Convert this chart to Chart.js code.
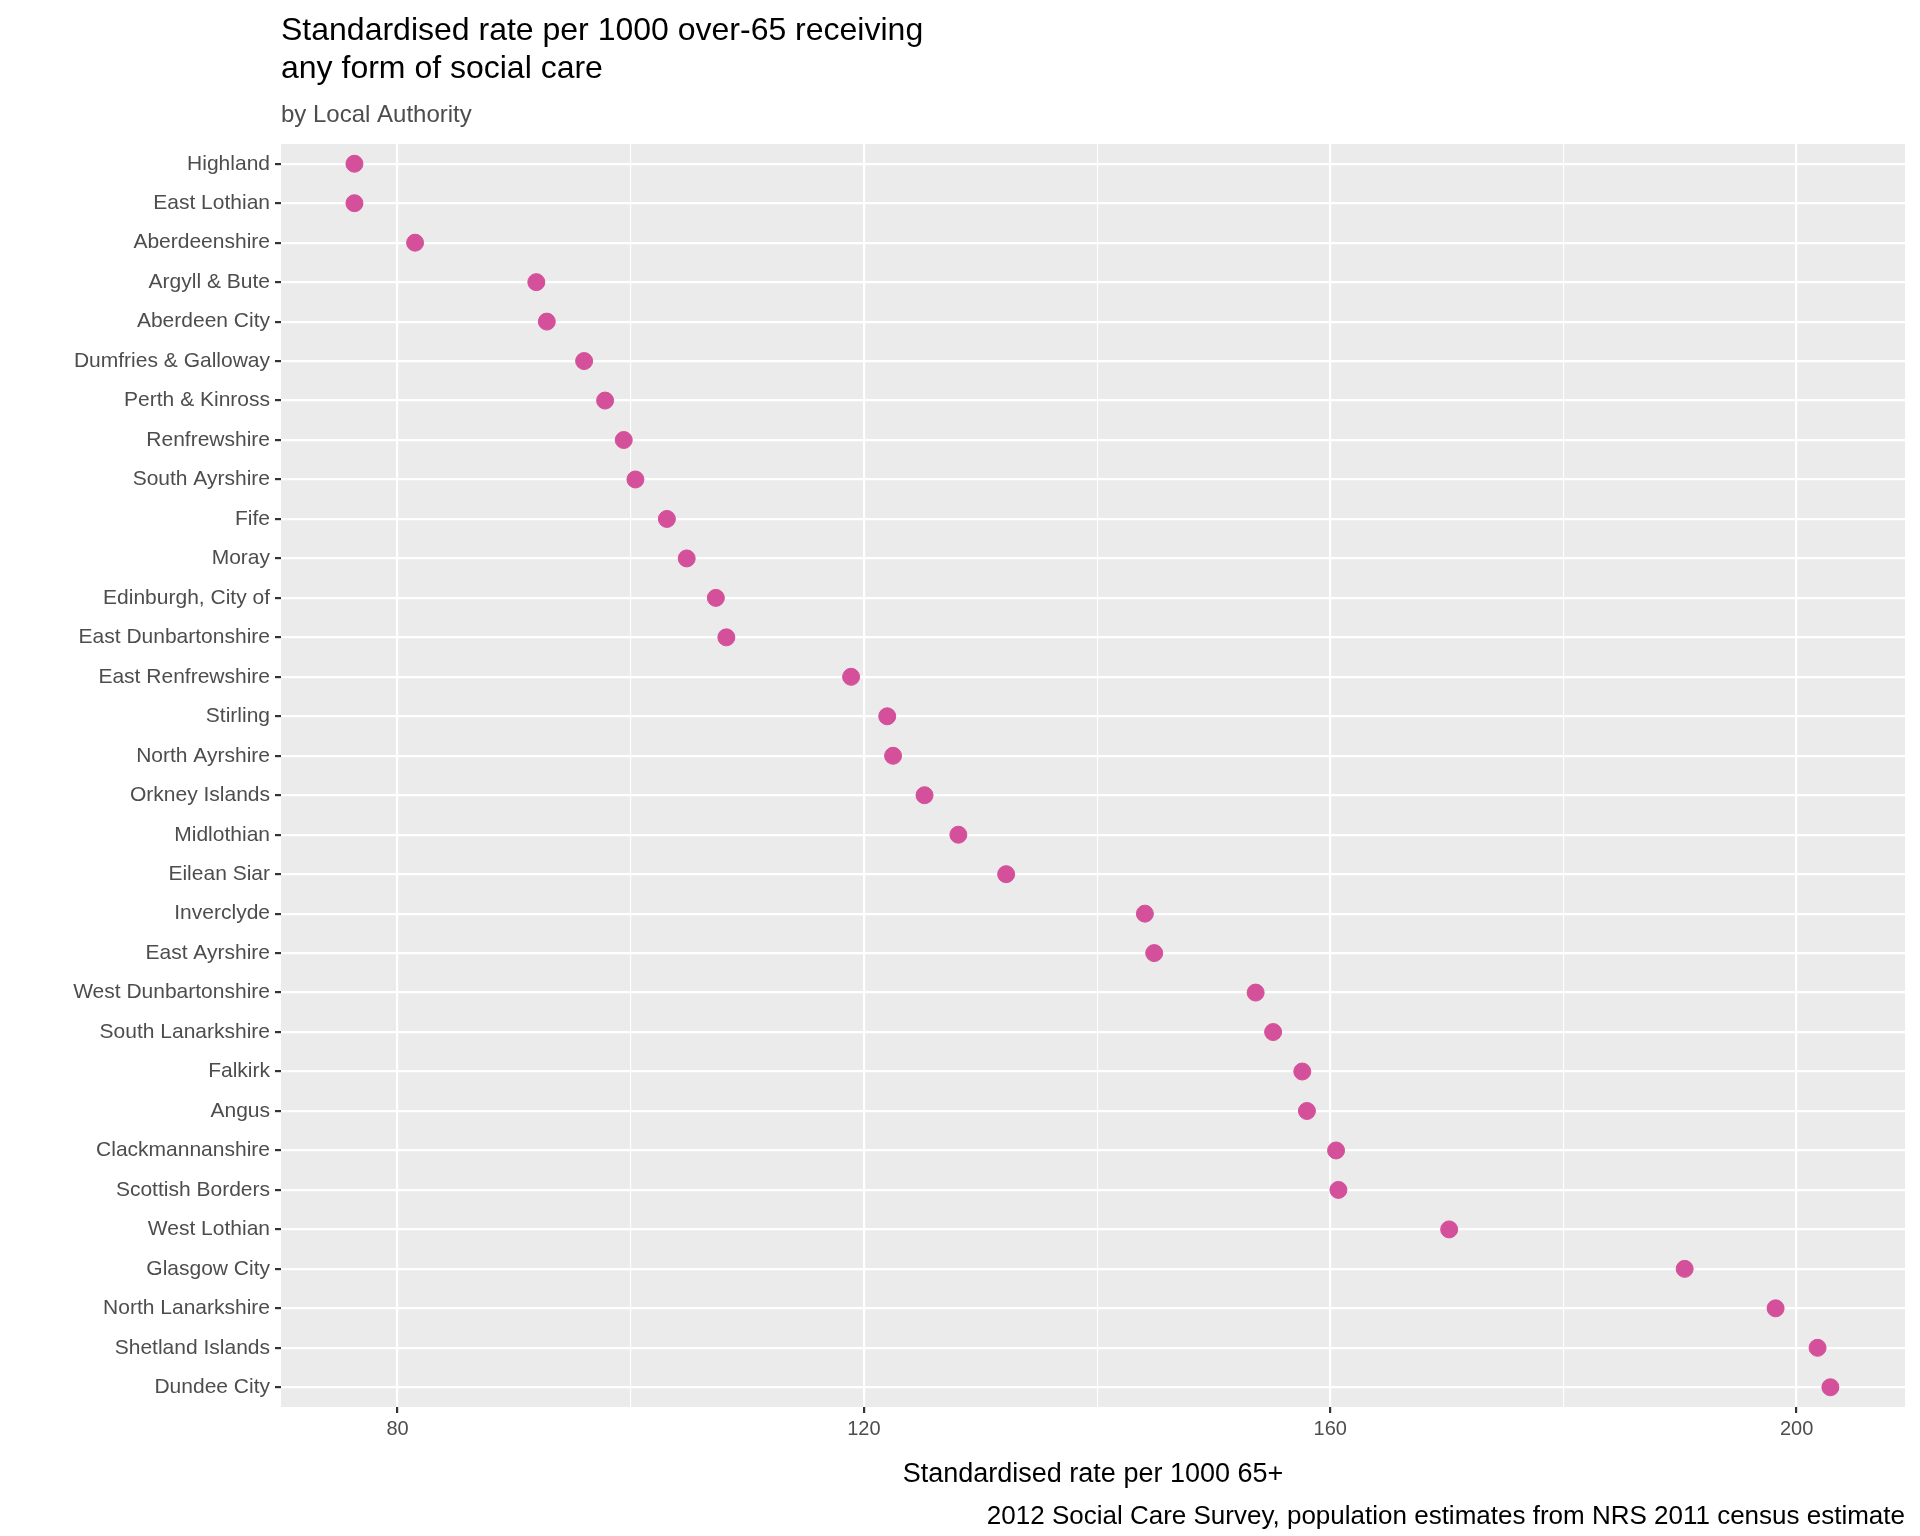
<!DOCTYPE html>
<html><head><meta charset="utf-8">
<script src="https://cdn.jsdelivr.net/npm/chart.js@4"></script>
<style>body{margin:0;background:#fff}#w{width:1920px;height:1536px}</style>
</head><body><div id="w"><canvas id="c"></canvas></div>
<script>
const categories=["Highland","East Lothian","Aberdeenshire","Argyll & Bute","Aberdeen City","Dumfries & Galloway","Perth & Kinross","Renfrewshire","South Ayrshire","Fife","Moray","Edinburgh, City of","East Dunbartonshire","East Renfrewshire","Stirling","North Ayrshire","Orkney Islands","Midlothian","Eilean Siar","Inverclyde","East Ayrshire","West Dunbartonshire","South Lanarkshire","Falkirk","Angus","Clackmannanshire","Scottish Borders","West Lothian","Glasgow City","North Lanarkshire","Shetland Islands","Dundee City"];
const rates=[76.3,76.3,81.5,91.9,92.8,96.0,97.8,99.4,100.4,103.1,104.8,107.3,108.2,118.9,122.0,122.5,125.2,128.1,132.2,144.1,144.9,153.6,155.1,157.6,158.0,160.5,160.7,170.2,190.4,198.2,201.8,202.9];
const xTicks=[80,120,160,200];
const F='"Liberation Sans", Arial, sans-serif';
const bg={id:'bg',beforeDraw(ch){const a=ch.chartArea,c=ch.ctx;c.save();c.fillStyle='#EBEBEB';c.fillRect(a.left,a.top,a.right-a.left,a.bottom-a.top);c.restore();},
afterDraw(ch){const c=ch.ctx,a=ch.chartArea;c.save();c.fillStyle='#000';c.textBaseline='alphabetic';c.textAlign='left';
c.font='32px '+F;c.fillText('Standardised rate per 1000 over-65 receiving',281,40);c.fillText('any form of social care',281,78);
c.fillStyle='#4D4D4D';c.font='24px '+F;c.fillText('by Local Authority',281,122);
c.fillStyle='#000';c.font='27px '+F;c.textAlign='center';c.fillText('Standardised rate per 1000 65+',(a.left+a.right)/2,1482);
c.textAlign='right';c.font='26px '+F;c.fillText('2012 Social Care Survey, population estimates from NRS 2011 census estimate',a.right,1524);c.restore();}};
new Chart(document.getElementById('c'),{type:'scatter',
data:{datasets:[{data:rates.map((v,i)=>({x:v,y:categories[i]})),backgroundColor:'#D4509A',borderColor:'#D4509A',pointRadius:8.5,pointHoverRadius:8.5}]},
options:{responsive:true,maintainAspectRatio:false,animation:false,
layout:{padding:{top:144,right:15,left:0,bottom:0}},
plugins:{legend:{display:false},tooltip:{enabled:false}},
scales:{
x:{type:'linear',min:70,max:209.3,afterBuildTicks(ax){ax.ticks=[80,100,120,140,160,180,200].map(v=>({value:v}));},
afterFit(ax){ax.height=1536-1407;},
grid:{color:'#fff',lineWidth:c=>xTicks.includes(c.tick&&c.tick.value)?2.2:1.1,tickColor:c=>xTicks.includes(c.tick&&c.tick.value)?'#333':'rgba(0,0,0,0)',tickLength:6,drawBorder:false},
border:{display:false},
ticks:{color:'#4D4D4D',font:{size:20,family:F},padding:4,callback:v=>xTicks.includes(v)?String(v):''}},
y:{type:'category',labels:categories,offset:true,afterFit(ax){ax.width=281;},
grid:{color:'#fff',lineWidth:2.2,tickColor:'#333',tickLength:6,offset:false},
border:{display:false},
ticks:{color:'#4D4D4D',font:{size:21,family:F},padding:5,autoSkip:false}}}},
plugins:[bg]});
</script></body></html>
